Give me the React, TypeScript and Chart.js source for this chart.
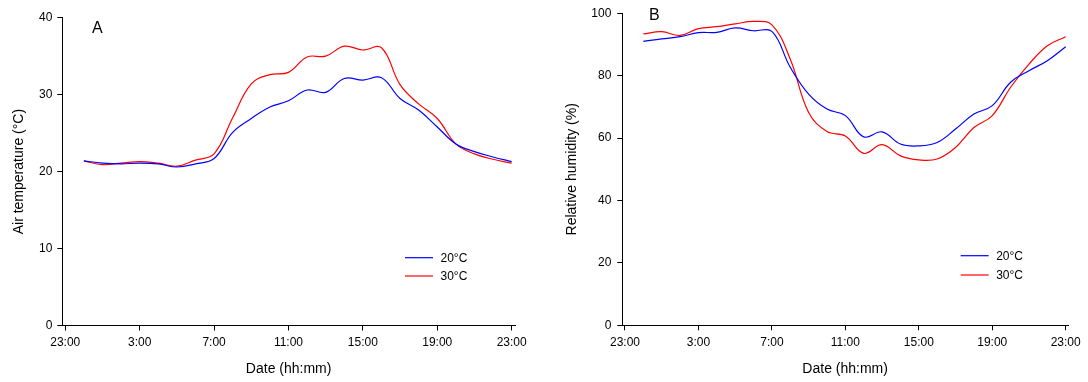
import React, { useEffect, useRef } from "react";
import { Chart, registerables } from "chart.js";

Chart.register(...registerables);

const FONT = "'Liberation Sans', Arial, sans-serif";

// hours of the day (0:00 .. 23:00); axis spans 23:00 of the previous day to 23:00
const hours = [0, 1, 2, 3, 4, 5, 6, 7, 8, 9, 10, 11, 12, 13, 14, 15, 16, 17, 18, 19, 20, 21, 22, 23];

// Panel A: air temperature (°C)
const temp20 = [21.4, 21.1, 21.0, 21.1, 21.0, 20.6, 21.0, 21.7, 25.1, 26.9, 28.4, 29.2, 30.6, 30.3, 32.1, 31.9, 32.2, 29.5, 28.0, 25.8, 23.6, 22.6, 21.9, 21.3];
const temp30 = [21.4, 20.9, 21.1, 21.3, 21.1, 20.7, 21.5, 22.3, 27.0, 31.4, 32.6, 32.9, 34.9, 35.0, 36.3, 35.8, 36.1, 31.3, 28.8, 26.9, 23.6, 22.3, 21.6, 21.1];

// Panel B: relative humidity (%)
const rh20 = [91.0, 91.8, 92.5, 93.8, 93.9, 95.3, 94.4, 94.2, 82.7, 74.1, 69.3, 67.2, 60.4, 62.0, 58.1, 57.5, 58.6, 62.9, 67.7, 70.4, 77.9, 81.6, 84.8, 89.3];
const rh30 = [93.4, 94.1, 92.9, 95.1, 95.7, 96.6, 97.4, 96.3, 85.3, 68.2, 62.1, 60.7, 55.1, 57.9, 54.3, 53.0, 53.3, 57.0, 63.4, 67.2, 76.3, 83.7, 89.6, 92.5];

const xTickValues = [-1, 3, 7, 11, 15, 19, 23];
const seriesLabels = ["20°C", "30°C"];
const seriesColors = ["#0000ff", "#ff0000"];

const formatHour = (v: number) => `${((v % 24) + 24) % 24}:00`;

type PanelCfg = {
  y20: number[];
  y30: number[];
  yMax: number;
  yStep: number;
  yTitle: string;
  yWidth: number;
  yTitlePad: number;
  xMin: number;
  xMax: number;
  padTop: number;
  padRight: number;
  xHeight: number;
  yTickPad: number;
  letter: string;
  letterX: number;
  letterY: number;
  legX: number;
  legY: number;
  legGap: number;
};

function overlayPlugin(cfg: PanelCfg) {
  return {
    id: "overlay",
    afterDraw(chart: any) {
      const ctx = chart.ctx as CanvasRenderingContext2D;
      ctx.save();
      ctx.fillStyle = "#000";
      ctx.textAlign = "left";
      ctx.textBaseline = "middle";
      ctx.font = `16px ${FONT}`;
      ctx.fillText(cfg.letter, cfg.letterX, cfg.letterY);
      chart.data.datasets.forEach((ds: any, i: number) => {
        const y = cfg.legY + i * cfg.legGap;
        ctx.strokeStyle = ds.borderColor;
        ctx.lineWidth = 1.2;
        ctx.beginPath();
        ctx.moveTo(cfg.legX, y);
        ctx.lineTo(cfg.legX + 28, y);
        ctx.stroke();
        ctx.font = `12px ${FONT}`;
        ctx.fillStyle = "#000";
        ctx.fillText(ds.label, cfg.legX + 35.5, y + 1);
      });
      ctx.restore();
    },
  };
}

function buildConfig(cfg: PanelCfg): any {
  const series = [cfg.y20, cfg.y30];
  return {
    type: "line",
    data: {
      datasets: series.map((vals, i) => ({
        label: seriesLabels[i],
        data: hours.map((h, k) => ({ x: h, y: vals[k] })),
        borderColor: seriesColors[i],
        backgroundColor: seriesColors[i],
        borderWidth: 1.2,
        pointRadius: 0,
        tension: 0.4,
        fill: false,
      })),
    },
    options: {
      animation: false,
      responsive: false,
      maintainAspectRatio: false,
      layout: { padding: { left: 0, top: cfg.padTop, right: cfg.padRight, bottom: 0 } },
      plugins: {
        legend: { display: false },
        tooltip: { enabled: false },
        title: { display: false },
      },
      scales: {
        x: {
          type: "linear",
          min: cfg.xMin,
          max: cfg.xMax,
          afterBuildTicks: (scale: any) => {
            scale.ticks = xTickValues.map((v) => ({ value: v }));
          },
          afterFit: (scale: any) => {
            scale.height = cfg.xHeight;
          },
          ticks: {
            autoSkip: false,
            maxRotation: 0,
            padding: 5,
            color: "#000",
            font: { family: FONT, size: 12 },
            callback: (v: any) => formatHour(Number(v)),
          },
          grid: {
            drawOnChartArea: false,
            drawTicks: true,
            tickLength: 5,
            tickColor: "#000",
            tickWidth: 1,
          },
          border: { display: true, color: "#000", width: 1 },
          title: {
            display: true,
            text: "Date (hh:mm)",
            color: "#000",
            font: { family: FONT, size: 14 },
            padding: { top: 0, bottom: 4 },
          },
        },
        y: {
          type: "linear",
          min: 0,
          max: cfg.yMax,
          afterFit: (scale: any) => {
            scale.width = cfg.yWidth;
          },
          ticks: {
            stepSize: cfg.yStep,
            padding: cfg.yTickPad,
            color: "#000",
            font: { family: FONT, size: 12 },
          },
          grid: {
            drawOnChartArea: false,
            drawTicks: true,
            tickLength: 5,
            tickColor: "#000",
            tickWidth: 1,
          },
          border: { display: true, color: "#000", width: 1 },
          title: {
            display: true,
            text: cfg.yTitle,
            color: "#000",
            font: { family: FONT, size: 14 },
            padding: { top: cfg.yTitlePad, bottom: 0 },
          },
        },
      },
    },
    plugins: [overlayPlugin(cfg)],
  };
}

const panelA: PanelCfg = {
  y20: temp20,
  y30: temp30,
  yMax: 40,
  yStep: 10,
  yTitle: "Air temperature (°C)",
  yWidth: 62.3,
  yTitlePad: 11,
  xMin: -1.16,
  xMax: 23.18,
  padTop: 17.7,
  padRight: 29,
  xHeight: 56.5,
  yTickPad: 5,
  letter: "A",
  letterX: 92,
  letterY: 29,
  legX: 405,
  legY: 257.7,
  legGap: 18.3,
};

const panelB: PanelCfg = {
  y20: rh20,
  y30: rh30,
  yMax: 100,
  yStep: 20,
  yTitle: "Relative humidity (%)",
  yWidth: 78.3,
  yTitlePad: 19.5,
  xMin: -1.147,
  xMax: 23.125,
  padTop: 13.3,
  padRight: 20,
  xHeight: 56.7,
  yTickPad: 6,
  letter: "B",
  letterX: 105,
  letterY: 15.5,
  legX: 416.7,
  legY: 255.7,
  legGap: 19.3,
};

function Panel({ cfg }: { cfg: PanelCfg }) {
  const ref = useRef<HTMLCanvasElement | null>(null);
  useEffect(() => {
    if (!ref.current) return;
    const chart = new Chart(ref.current, buildConfig(cfg));
    return () => chart.destroy();
  }, [cfg]);
  return <canvas ref={ref} width={544} height={382} style={{ display: "block", width: 544, height: 382 }} />;
}

export default function App() {
  return (
    <div
      style={{
        position: "absolute",
        left: 0,
        top: 0,
        width: 1088,
        height: 382,
        display: "flex",
        background: "#fff",
      }}
    >
      <Panel cfg={panelA} />
      <Panel cfg={panelB} />
    </div>
  );
}
